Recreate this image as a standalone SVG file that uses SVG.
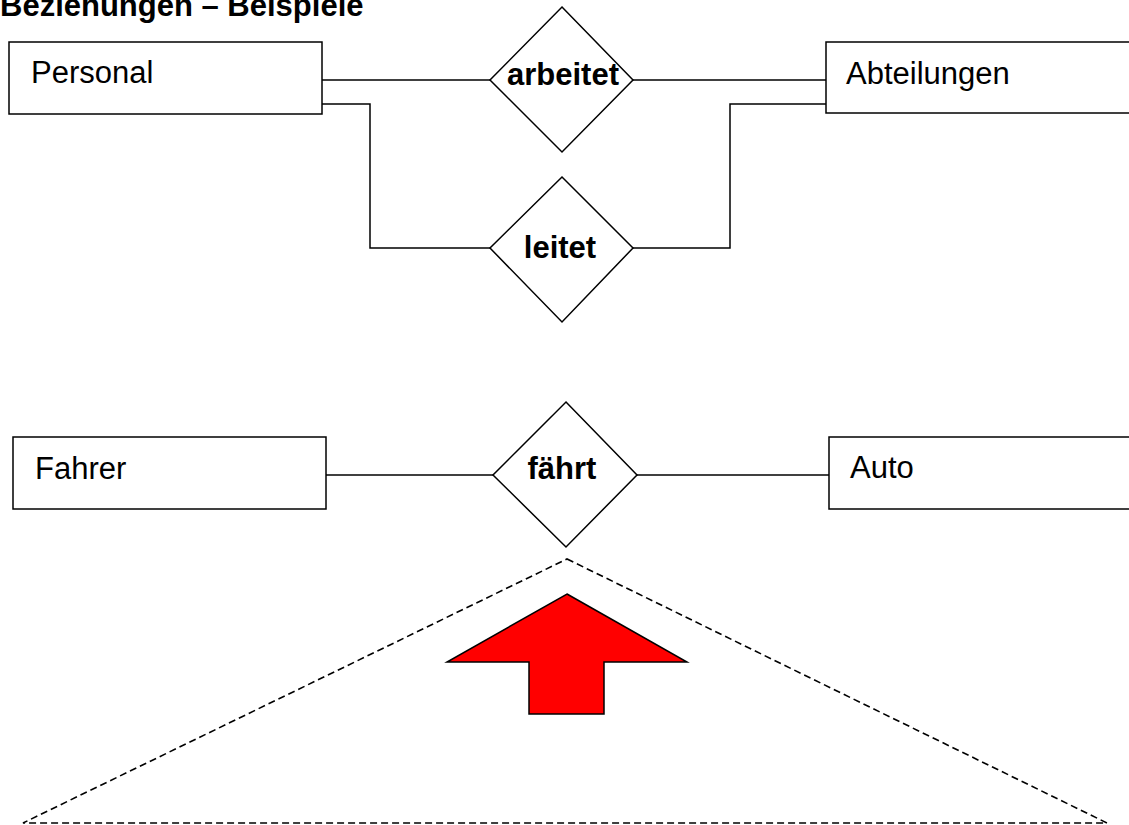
<svg xmlns="http://www.w3.org/2000/svg" width="1129" height="825" viewBox="0 0 1129 825">
<style>
.ent{fill:#fff;stroke:#000;stroke-width:1.5}
.rel{fill:#fff;stroke:#000;stroke-width:1.5}
.con{fill:none;stroke:#000;stroke-width:1.5}
.lbl{font-family:"Liberation Sans",Arial,sans-serif;font-size:31px;fill:#000}
.rlbl{font-family:"Liberation Sans",Arial,sans-serif;font-size:31px;font-weight:bold;fill:#000;text-anchor:middle}
.dash{fill:none;stroke:#000;stroke-width:1.6;stroke-dasharray:7,4}
</style>
<rect width="1129" height="825" fill="#fff"/>
<text x="0" y="16" font-family="Liberation Sans, Arial, sans-serif" font-size="31" font-weight="bold">Beziehungen – Beispiele</text>
<g id="connectors">
<polyline class="con" points="322,80 490,80"/>
<polyline class="con" points="633,80 826,80"/>
<polyline class="con" points="322,104 370,104 370,248 490,248"/>
<polyline class="con" points="633,248 730,248 730,104 826,104"/>
<polyline class="con" points="326,475 493,475"/>
<polyline class="con" points="637,475 829,475"/>
</g>
<g id="personal">
<rect class="ent" x="9" y="42" width="313" height="72"/>
<text class="lbl" x="31" y="83">Personal</text>
</g>
<g id="abteilungen">
<rect class="ent" x="826" y="42" width="320" height="71"/>
<text class="lbl" x="846" y="84">Abteilungen</text>
</g>
<g id="arbeitet">
<polygon class="rel" points="562,7 633,80 562,152 490,80"/>
<text class="rlbl" x="563" y="85">arbeitet</text>
</g>
<g id="leitet">
<polygon class="rel" points="562,177 633,248 562,322 490,248"/>
<text class="rlbl" x="560" y="258">leitet</text>
</g>
<g id="fahrer">
<rect class="ent" x="13" y="437" width="313" height="72"/>
<text class="lbl" x="35" y="479">Fahrer</text>
</g>
<g id="auto">
<rect class="ent" x="829" y="437" width="320" height="72"/>
<text class="lbl" x="850" y="478">Auto</text>
</g>
<g id="faehrt">
<polygon class="rel" points="566,402 637,475 566,547 493,475"/>
<text class="rlbl" x="562" y="479">fährt</text>
</g>
<g id="triangle">
<polygon class="dash" points="567,559 1107,823 23,823"/>
</g>
<g id="arrow">
<polygon points="567,594 687,662 604,662 604,714 529,714 529,662 447,662" fill="#ff0000" stroke="#000" stroke-width="1.5"/>
</g>
</svg>
